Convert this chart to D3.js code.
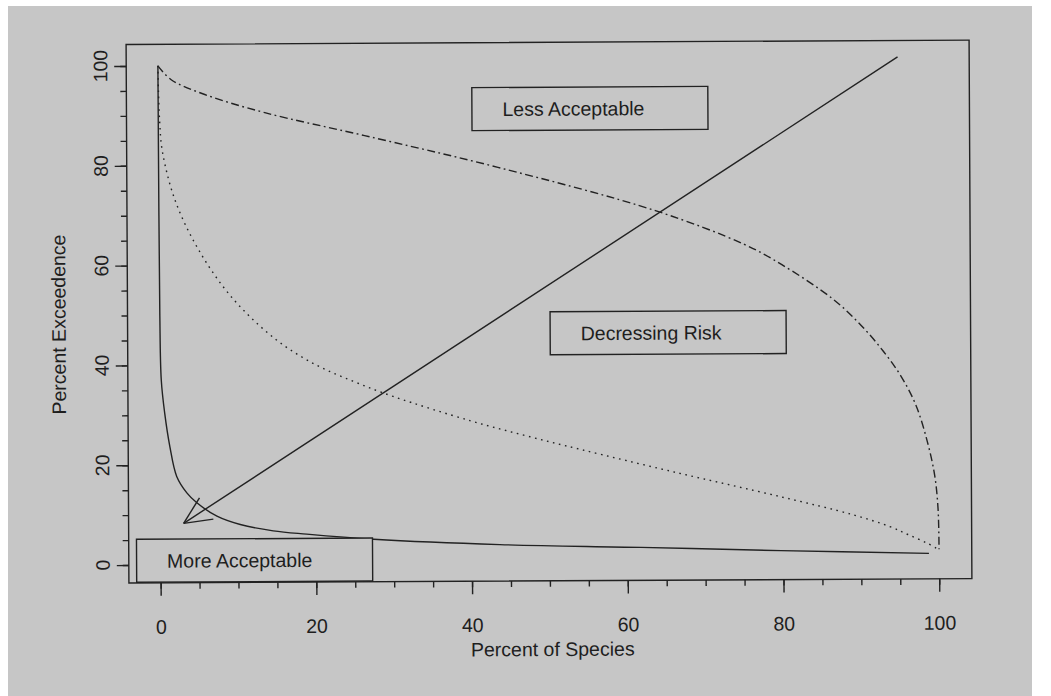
<!DOCTYPE html>
<html>
<head>
<meta charset="utf-8">
<script src="https://cdn.jsdelivr.net/npm/d3@7"></script>
<style>
  html, body { margin: 0; padding: 0; background: #ffffff; }
  svg { display: block; }
  text { font-family: "Liberation Sans", Arial, Helvetica, sans-serif; fill: #1e1e1e; }
</style>
</head>
<body>
<svg id="chart" width="1051" height="696"></svg>
<script>
// Species sensitivity / exceedence curves (percent of species vs percent exceedence)
const steepX = [0, 0.03, 0.08, 0.22, 0.64, 1.28, 2.14, 3.43, 4.71, 7.28, 10.27, 14.5, 18.8, 27.4, 43.6, 61.7, 79.7, 98.7];
const steepY = [100, 70, 50, 37.1, 30.4, 23.7, 17.7, 14.4, 12.4, 9.7, 8.0, 6.7, 6.0, 4.9, 3.7, 3.0, 2.2, 1.5];

const dottedX = [0, 0.05, 0.2, 0.5, 2.1, 5.1, 9.4, 15, 20, 25, 30, 40, 47, 54, 66.2, 79.7, 89, 93.7, 96, 98.4, 99.8];
const dottedY = [100, 95.2, 88.5, 83, 73.1, 63.1, 53.4, 45, 40, 36.5, 33.5, 28.5, 25.5, 22.7, 18.0, 13.0, 9.3, 6.9, 5.3, 3.6, 2.4];

const dashDotX = [0, 1.7, 6.0, 13.7, 26.5, 43.6, 63.9, 75.2, 80, 86.5, 90, 93, 95.2, 97.1, 98.6, 99.5, 99.9, 100];
const dashDotY = [100, 97.2, 94.2, 90.5, 85.8, 79.3, 70.4, 63.6, 59.5, 52.6, 47.5, 42, 37.1, 31.3, 23.7, 17, 10.4, 2.3];

// Risk direction arrow: from (tailX, tailY) to (headX, headY)
const arrowFrom = [95, 101];
const arrowTo = [3, 8.3];

// Boxed annotations, anchored at their top-left corner in data units
const noteLabels = ["Less Acceptable", "Decressing Risk", "More Acceptable"];
const noteX = [40.3, 50.2, -3.07];
const noteY = [95.3, 50.3, 5.15];

const xTicks = [0, 20, 40, 60, 80, 100];
const yTicks = [0, 20, 40, 60, 80, 100];
const minorTicks = d3.range(0, 101, 5);

const xTitle = "Percent of Species";
const yTitle = "Percent Exceedence";

// ---- layout ----
const svg = d3.select("#chart");
const ink = "#222222";
const fontSize = 19.5;

svg.append("rect").attr("x", 8).attr("y", 6).attr("width", 1024).attr("height", 690).attr("fill", "#c6c6c6");

const g = svg.append("g").attr("transform", "rotate(-0.3, 549, 312)");

const x = d3.scaleLinear().domain([-4.07, 104.2]).range([127.5, 970.5]);
const y = d3.scaleLinear().domain([-3.6, 104.3]).range([580.8, 42.3]);

// plot frame
g.append("rect")
  .attr("x", x.range()[0]).attr("y", y.range()[1])
  .attr("width", x.range()[1] - x.range()[0])
  .attr("height", y.range()[0] - y.range()[1])
  .attr("fill", "none").attr("stroke", ink).attr("stroke-width", 1.4);

// x axis: minor ticks every 5, labelled ticks every 20
const xMinor = d3.axisBottom(x).tickValues(minorTicks).tickSize(6).tickFormat("");
const xMajor = d3.axisBottom(x).tickValues(xTicks).tickSize(13).tickPadding(24).tickFormat(d3.format("d"));
[xMinor, xMajor].forEach(ax => {
  const a = g.append("g").attr("transform", `translate(0,${y.range()[0]})`).call(ax);
  a.select(".domain").remove();
  a.selectAll("line").attr("stroke", ink).attr("stroke-width", 1.4);
  a.selectAll("text").attr("font-size", fontSize).attr("fill", "#1e1e1e")
    .style("font-family", '"Liberation Sans", Arial, sans-serif');
});

// y axis: rotated labels as in base graphics
const yMinor = d3.axisLeft(y).tickValues(minorTicks).tickSize(6).tickFormat("");
const yMajor = d3.axisLeft(y).tickValues(yTicks).tickSize(12).tickFormat("");
[yMinor, yMajor].forEach(ax => {
  const a = g.append("g").attr("transform", `translate(${x.range()[0]},0)`).call(ax);
  a.select(".domain").remove();
  a.selectAll("line").attr("stroke", ink).attr("stroke-width", 1.4);
});
g.append("g").selectAll("text").data(yTicks).join("text")
  .attr("transform", d => `translate(${x.range()[0] - 19},${y(d)}) rotate(-90)`)
  .attr("text-anchor", "middle")
  .attr("font-size", fontSize)
  .text(d => d);

// axis titles
g.append("text").attr("x", 551).attr("y", 656).attr("text-anchor", "middle")
  .attr("font-size", fontSize).text(xTitle);
g.append("text").attr("transform", "translate(65.5,322) rotate(-90)").attr("text-anchor", "middle")
  .attr("font-size", fontSize).text(yTitle);

// curves
const line = d3.line().x(d => x(d[0])).y(d => y(d[1])).curve(d3.curveCatmullRom.alpha(0.5));
const curves = [
  { xs: steepX, ys: steepY, dash: null },
  { xs: dottedX, ys: dottedY, dash: "1.6 4.6" },
  { xs: dashDotX, ys: dashDotY, dash: "8 3.5 1.8 3.5" }
];
curves.forEach(c => {
  g.append("path")
    .datum(d3.zip(c.xs, c.ys))
    .attr("d", line)
    .attr("fill", "none")
    .attr("stroke", ink)
    .attr("stroke-width", 1.4)
    .attr("stroke-dasharray", c.dash);
});

// arrow with open head
const ax0 = x(arrowFrom[0]), ay0 = y(arrowFrom[1]);
const ax1 = x(arrowTo[0]), ay1 = y(arrowTo[1]);
g.append("line").attr("x1", ax0).attr("y1", ay0).attr("x2", ax1).attr("y2", ay1)
  .attr("stroke", ink).attr("stroke-width", 1.4);
const ang = Math.atan2(ay0 - ay1, ax0 - ax1);
const headLen = 30, headAng = 25 * Math.PI / 180;
[-1, 1].forEach(s => {
  g.append("line")
    .attr("x1", ax1).attr("y1", ay1)
    .attr("x2", ax1 + headLen * Math.cos(ang + s * headAng))
    .attr("y2", ay1 + headLen * Math.sin(ang + s * headAng))
    .attr("stroke", ink).attr("stroke-width", 1.4);
});

// boxed notes
const boxW = 236, boxH = 43;
const notes = g.append("g").selectAll("g").data(d3.range(noteLabels.length)).join("g")
  .attr("transform", i => `translate(${x(noteX[i])},${y(noteY[i])})`);
notes.append("rect").attr("width", boxW).attr("height", boxH)
  .attr("fill", "#c6c6c6").attr("stroke", ink).attr("stroke-width", 1.4);
notes.append("text").attr("x", 30.5).attr("y", 28.5).attr("font-size", fontSize)
  .text(i => noteLabels[i]);
</script>
</body>
</html>
